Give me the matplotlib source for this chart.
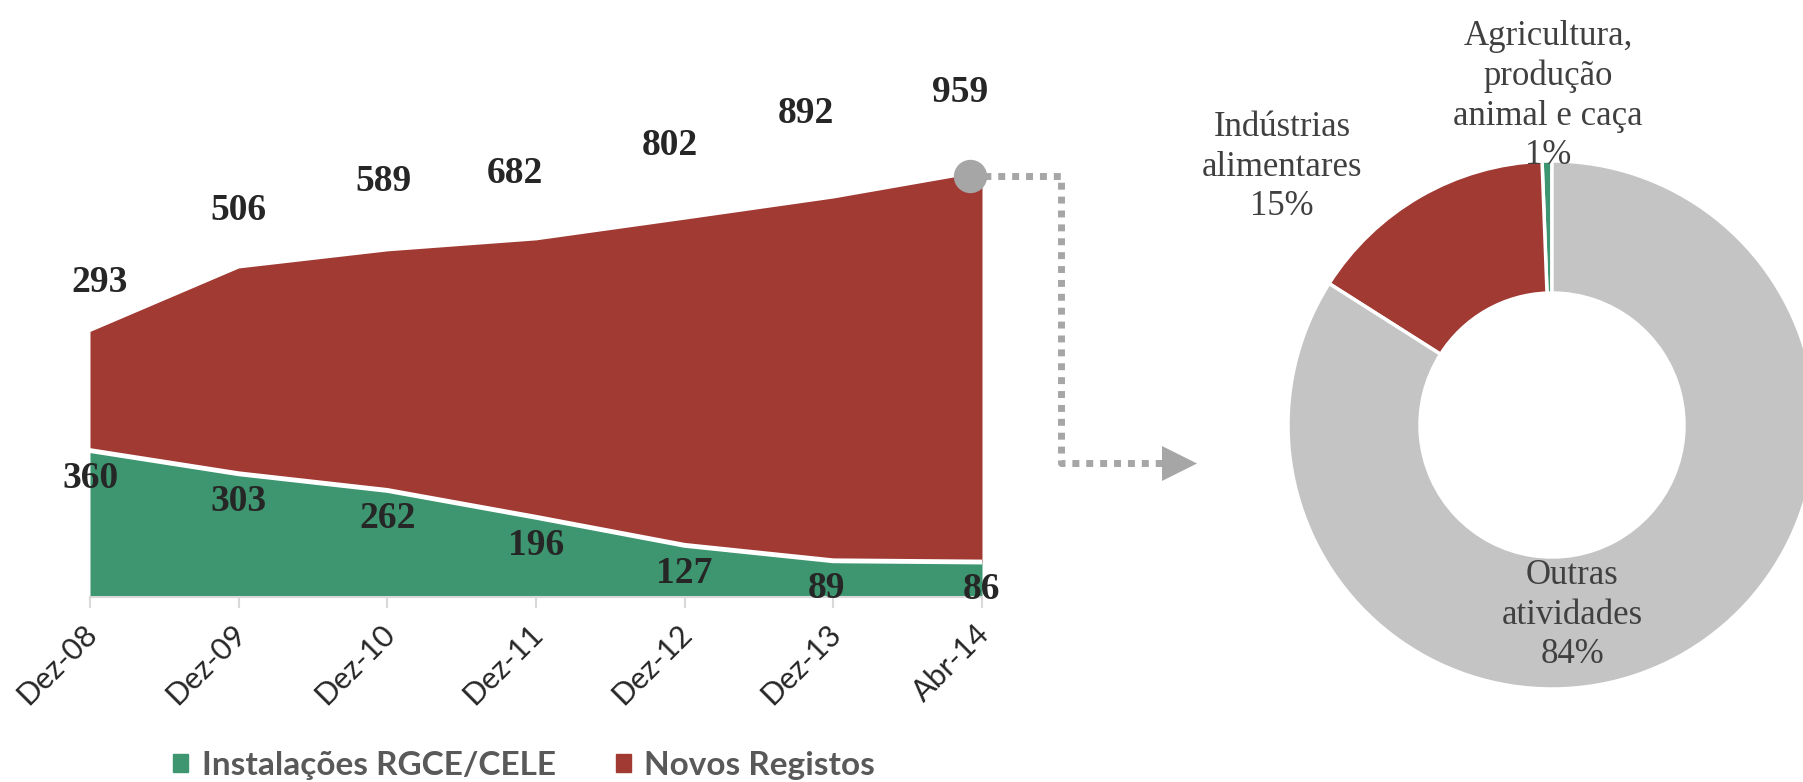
"""Stacked area of installations + donut of sector shares."""
import matplotlib
matplotlib.use("Agg")
import matplotlib.pyplot as plt
import matplotlib.transforms as mtransforms
from matplotlib.lines import Line2D
from matplotlib.patches import Polygon, Patch

# ---- data ----
periods = ["Dez-08", "Dez-09", "Dez-10", "Dez-11", "Dez-12", "Dez-13", "Abr-14"]
instalacoes = [360, 303, 262, 196, 127, 89, 86]          # Instalações RGCE/CELE
novos = [293, 506, 589, 682, 802, 892, 959]              # Novos Registos

sectors = ["Agricultura,\nprodução\nanimal e caça", "Indústrias\nalimentares", "Outras\natividades"]
shares = [0.6, 15.4, 84.0]
share_labels = ["1%", "15%", "84%"]

# ---- style ----
GREEN = "#3D9670"
RED = "#A13A33"
GREY = "#C4C4C4"
DOT = "#A6A6A6"
W, H = 1803, 782

fig = plt.figure(figsize=(W / 100, H / 100), dpi=100)

def fx(px):
    return px / W

def fy(py):
    return 1 - py / H

# ---- area chart ----
ax = fig.add_axes([fx(90), fy(597), fx(982) - fx(90), fy(115) - fy(597)])
x = list(range(len(periods)))
total = [a + b for a, b in zip(instalacoes, novos)]
ax.fill_between(x, 0, instalacoes, color=GREEN, lw=0)
ax.fill_between(x, instalacoes, total, color=RED, lw=0)
ax.plot(x, instalacoes, color="white", lw=3.5, solid_joinstyle="miter")
ax.set_xlim(0, 6)
ax.set_ylim(0, 1185)
ax.set_yticks([])
for s in ["top", "right", "left"]:
    ax.spines[s].set_visible(False)
ax.spines["bottom"].set_color("#D9D9D9")
ax.spines["bottom"].set_linewidth(1.5)
ax.set_xticks(x)
ax.set_xticklabels(periods, rotation=45, ha="right", va="center", rotation_mode="anchor",
                   family="Lato", fontsize=22, color="#262626")
ax.tick_params(axis="x", direction="out", length=8, width=1.5, color="#D9D9D9", pad=8)
shift = mtransforms.ScaledTranslation(2 / 72, -7 / 72, fig.dpi_scale_trans)
for lbl in ax.get_xticklabels():
    lbl.set_transform(lbl.get_transform() + shift)

# value labels (nudges in points, layout only)
top_dx = [7, 0, -3, -15, -11, -20, -16]
top_dy = [35, 41, 50, 48, 53, 61, 57]
bot_dx = [0, 0, 0, 0, 0, -5, 0]
for i in x:
    ax.annotate(str(novos[i]), (i, total[i]), xytext=(top_dx[i], top_dy[i]),
                textcoords="offset points", ha="center", va="center",
                family="Liberation Serif", fontweight="bold", fontsize=27,
                color="#262626", annotation_clip=False)
    ax.annotate(str(instalacoes[i]), (i, instalacoes[i]), xytext=(bot_dx[i], -20),
                textcoords="offset points", ha="center", va="center",
                family="Liberation Serif", fontweight="bold", fontsize=27,
                color="#262626", annotation_clip=False)

# marker on last point
ax.plot([6 - 0.08], [total[-1] - 10], "o", ms=24, color=DOT, mec="none", clip_on=False, zorder=5)

# ---- legend ----
handles = [Patch(color=GREEN), Patch(color=RED)]
fig.legend(handles, ["Instalações RGCE/CELE", "Novos Registos"], loc="center",
           bbox_to_anchor=(fx(524), fy(765)), ncol=2, frameon=False,
           handlelength=0.45, handleheight=0.45, handletextpad=0.4, columnspacing=1.8,
           prop={"family": "Lato", "weight": "bold", "size": 24}, labelcolor="#595959")

# ---- connector ----
fig.canvas.draw()
sx, sy = ax.transData.transform((6 - 0.08, total[-1] - 10))
sy_px = H - sy
path_x = [sx, 1061, 1061, 1165]
path_y = [sy_px, sy_px, 463, 463]
fig.add_artist(Line2D([fx(p) for p in path_x], [fy(p) for p in path_y],
                      transform=fig.transFigure, color=DOT, lw=5,
                      linestyle=(0, (1, 1)), solid_joinstyle="miter", zorder=1))
fig.add_artist(Polygon([(fx(1162), fy(446)), (fx(1162), fy(481)), (fx(1197), fy(463.5))],
                       closed=True, transform=fig.transFigure, color=DOT, lw=0))

# ---- donut ----
ax2 = fig.add_axes([fx(1552 - 264), fy(425 + 264), fx(528), fy(0) - fy(528)])
ax2.pie(shares, colors=[GREEN, RED, GREY], startangle=90, counterclock=True, radius=1,
        wedgeprops=dict(width=0.5, edgecolor="white", linewidth=2.5))
ax2.set_xlim(-1, 1)
ax2.set_ylim(-1, 1)
ax2.set_aspect("auto")
ax2.axis("off")

lab_pos = [(1548, 96), (1282, 167), (1572, 615)]
for name, pct, (px, py) in zip(sectors, share_labels, lab_pos):
    fig.text(fx(px), fy(py), f"{name}\n{pct}", ha="center", va="center",
             family="Liberation Serif", fontsize=25, color="#404040", linespacing=1.27)

fig.savefig("out.png", dpi=100)
